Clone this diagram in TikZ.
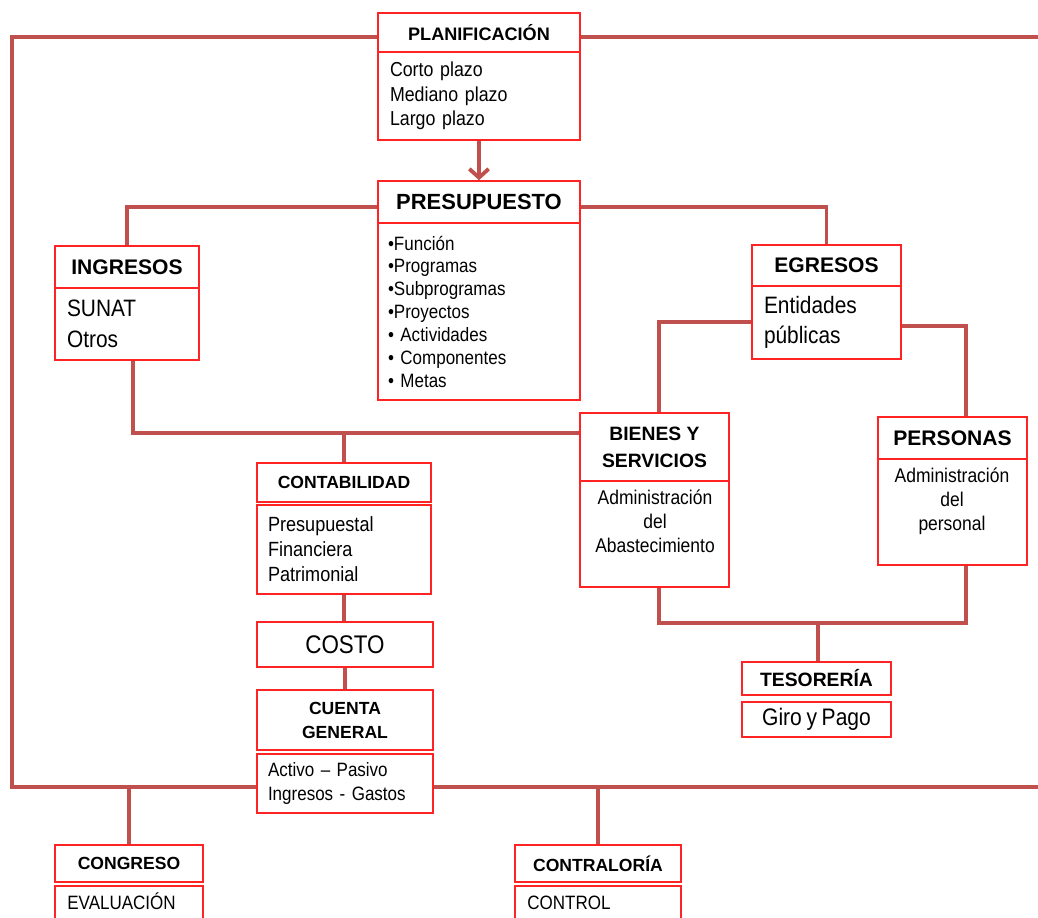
\documentclass[tikz,border=0pt]{standalone}
\usepackage{fontspec}
\setmainfont{Liberation Sans}
\newfontfamily\nf[FakeStretch=0.88,WordSpace=0.8]{Liberation Sans}
\usetikzlibrary{arrows.meta,backgrounds}
\definecolor{boxred}{RGB}{255,35,35}
\definecolor{connc}{RGB}{192,80,77}
\newcommand\fz[2]{\fontsize{#1}{#2}\selectfont}
\newcommand\bx[7]{\node[box,#6,minimum width={(#4-#2)*0.02cm},minimum height={(#5-#3)*0.02cm}] (#1) at ({(#2+#4)/2},{(#3+#5)/2}) {#7};}
\begin{document}
\begin{tikzpicture}[x=0.02cm,y=-0.02cm,
  box/.style={draw=boxred,line width=0.85pt,fill=white,inner sep=0pt,text=black},
  hdr/.style={box,font=\bfseries\fz{10}{12}},
  btxt/.style={inner sep=0pt,align=center,text=black},
  conn/.style={draw=connc,line width=2.2pt}]
\useasboundingbox (0,0) rectangle (1038,917);
\clip (0,0) rectangle (1038,917);
% boxes
\bx{planh}{378}{13}{580}{52}{hdr,font=\bfseries\fz{10.3}{12}}{PLANIFICACIÓN}
\bx{planb}{378}{52}{580}{140}{text width=3.56cm,align=left,font=\nf\fz{11.5}{13.9}}{Corto plazo\\Mediano plazo\\Largo plazo}
\bx{presh}{378}{181}{580}{223}{hdr,font=\bfseries\fz{12.5}{15}}{PRESUPUESTO}
\bx{presb}{378}{223}{580}{400}{text width=3.64cm,align=left,font=\nf\fz{11}{13}}{•Función\\•Programas\\•Subprogramas\\•Proyectos\\• Actividades\\• Componentes\\• Metas}
\bx{ingh}{55}{246}{199}{288}{hdr,font=\bfseries\fz{12}{14}}{INGRESOS}
\bx{ingb}{55}{288}{199}{360}{text width=2.4cm,align=left,font=\nf\fz{13.5}{17.6}}{SUNAT\\Otros}
\bx{egh}{752}{245}{901}{286}{hdr,font=\bfseries\fz{12}{14}}{EGRESOS}
\bx{egb}{752}{286}{901}{359}{text width=2.5cm,align=left,font=\nf\fz{13.5}{17}}{Entidades\\públicas}
\bx{bienh}{580}{413}{729}{481}{hdr,align=center,font=\bfseries\fz{11}{15.3}}{BIENES Y\\SERVICIOS}
\bx{bienb}{580}{481}{729}{587}{}{}
\node[btxt,anchor=north,font=\nf\fz{11.3}{13.6}] (bient) at (655,490) {Administración\\del\\Abastecimiento};
\bx{persh}{878}{417}{1027}{459}{hdr,font=\bfseries\fz{12}{14}}{PERSONAS}
\bx{persb}{878}{459}{1027}{565}{}{}
\node[btxt,anchor=north,font=\nf\fz{11.3}{13.4}] (perst) at (952,468) {Administración\\del\\personal};
\bx{tesh}{742}{662}{891}{695}{hdr,font=\bfseries\fz{11}{13}}{TESORERÍA}
\bx{tesb}{742}{702}{891}{737}{font=\nf\fz{13.6}{16}}{Giro y Pago}
\bx{conth}{257}{463}{431}{502}{hdr}{CONTABILIDAD}
\bx{contb}{257}{505}{431}{594}{text width=3.04cm,align=left,font=\nf\fz{11.7}{14.2}}{Presupuestal\\Financiera\\Patrimonial}
\bx{costo}{257}{622}{433}{667}{font=\nf\fz{14.5}{17}}{COSTO}
\bx{cgh}{257}{690}{433}{750}{hdr,align=center,font=\bfseries\fz{10}{13.6}}{CUENTA\\GENERAL}
\bx{cgb}{257}{754}{433}{813}{text width=3.08cm,align=left,font=\nf\fz{11}{13.6}}{Activo – Pasivo\\Ingresos - Gastos}
\bx{congh}{55}{845}{203}{882}{hdr}{CONGRESO}
\bx{congb}{55}{886}{203}{940}{}{}
\node[btxt,anchor=base west,font=\nf\fz{11}{13}] (congt) at (67,909) {EVALUACIÓN};
\bx{contrah}{515}{845}{681}{882}{hdr}{CONTRALORÍA}
\bx{contrab}{515}{886}{681}{940}{}{}
\node[btxt,anchor=base west,font=\nf\fz{11}{13}] (contrat) at (527,909) {CONTROL};
% connectors
\begin{pgfonlayer}{background}
\coordinate (tl) at (12,37);
\coordinate (tr) at (1038,37);
\coordinate (bl) at (12,787);
\coordinate (br) at (1038,787);
\draw[conn] (planh.west |- tl) -- (tl) -- (bl) -- (cgb.west |- bl);
\draw[conn] (planh.east |- tr) -- (tr);
\draw[conn] (cgb.east |- br) -- (br);
\draw[conn,-{Straight Barb[length=5pt,width=11pt]}] (planb.south) -- (presh.north);
\coordinate (py) at (480,207);
\draw[conn] (presh.west |- py) -| (ingh.north);
\draw[conn] (presh.east |- py) -| (egh.north);
\coordinate (eyl) at (659,322);
\coordinate (eyr) at (966,326);
\draw[conn] (egb.west |- eyl) -- (eyl) -- (eyl |- bienh.north);
\draw[conn] (egb.east |- eyr) -- (eyr) -- (eyr |- persh.north);
\coordinate (tj) at (818,623);
\draw[conn] (eyl |- bienb.south) -- (eyl |- tj) -- (eyr |- tj) -- (eyr |- persb.south);
\draw[conn] (tj) -- (tj |- tesh.north);
\coordinate (ix) at (133,433);
\coordinate (cj) at (344,433);
\draw[conn] (ix |- ingb.south) -- (ix) -- (ix -| bienh.west);
\draw[conn] (cj) -- (cj |- conth.north);
\draw[conn] (contb.south) -- (contb.south |- costo.north);
\draw[conn] (costo.south) -- (costo.south |- cgh.north);
\draw[conn] (congh.north |- bl) -- (congh.north);
\draw[conn] (contrah.north |- br) -- (contrah.north);
\end{pgfonlayer}
\end{tikzpicture}
\end{document}
